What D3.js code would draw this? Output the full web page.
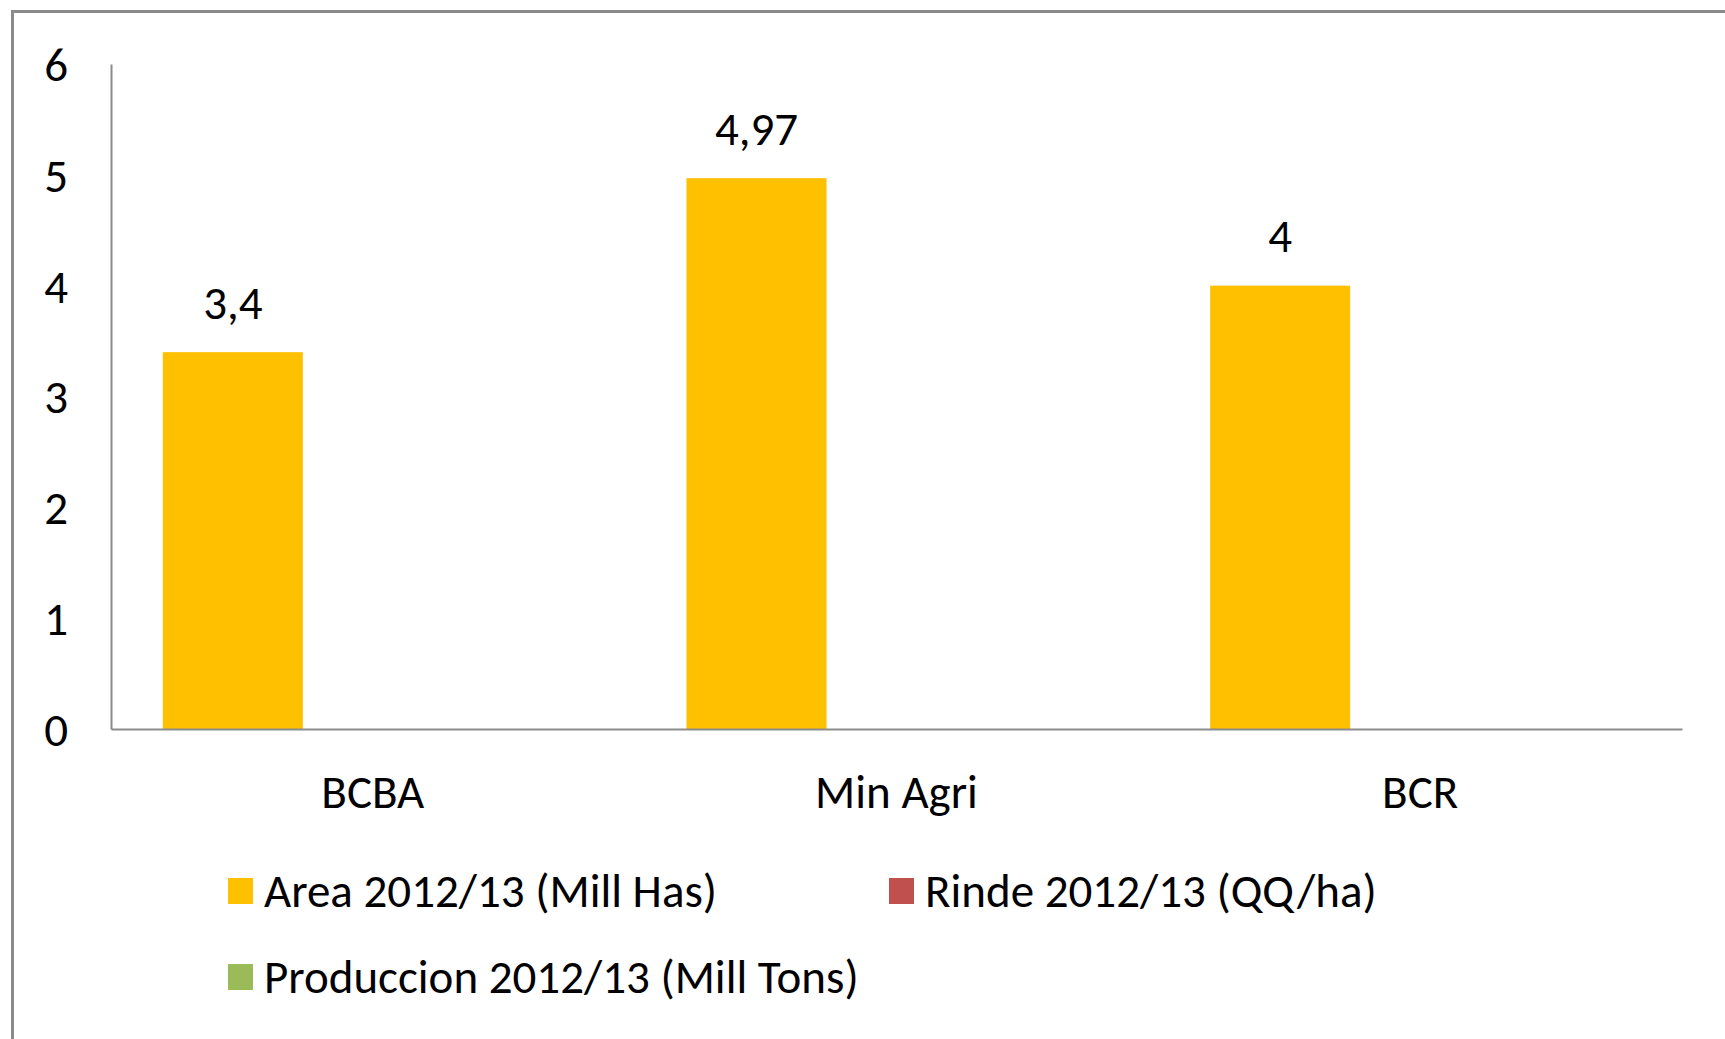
<!DOCTYPE html>
<html>
<head>
<meta charset="utf-8">
<script src="https://cdn.jsdelivr.net/npm/d3@7"></script>
<style>
  body { margin: 0; background: #fff; }
  text { font-family: Calibri, Carlito, Lato, sans-serif; fill: #000; }
</style>
</head>
<body>
<div id="chart"></div>
<script>
// data
const categories = ["BCBA", "Min Agri", "BCR"];
const seriesNames = ["Area 2012/13 (Mill Has)", "Rinde 2012/13 (QQ/ha)", "Produccion 2012/13 (Mill Tons)"];
const areaValues = [3.4, 4.97, 4];
const rindeValues = [null, null, null];      // nothing drawn in the picture
const produccionValues = [null, null, null]; // nothing drawn in the picture
const valueLabels = ["3,4", "4,97", "4"];
const yTicks = [0, 1, 2, 3, 4, 5, 6];
const seriesColors = ["#FFC000", "#C0504D", "#9BBB59"];

const W = 1725, H = 1039;
const plot = {left: 111, right: 1682, top: 64, bottom: 729};
const fontSize = 47;

const svg = d3.select("#chart").append("svg")
    .attr("width", W)
    .attr("height", H);

// outer frame (cut off at right and bottom)
svg.append("rect")
    .attr("x", 12.5).attr("y", 11.5)
    .attr("width", W + 50).attr("height", H + 50)
    .attr("fill", "none")
    .attr("stroke", "#8a8a8a")
    .attr("stroke-width", 3);

const allSeries = [areaValues, rindeValues, produccionValues];
const rows = [];
categories.forEach((c, i) => {
  allSeries.forEach((vals, s) => {
    if (vals[i] != null) rows.push({cat: c, series: seriesNames[s], value: vals[i], label: s === 0 ? valueLabels[i] : vals[i]});
  });
});

const x0 = d3.scaleBand()
    .domain(categories)
    .range([plot.left, plot.right]);

const x1 = d3.scaleBand()
    .domain(seriesNames)
    .range([0, x0.bandwidth()])
    .paddingInner(0)
    .paddingOuter(0.37);

const y = d3.scaleLinear()
    .domain([0, 6])
    .range([plot.bottom, plot.top]);

const color = d3.scaleOrdinal()
    .domain(seriesNames)
    .range(seriesColors);

// y axis
const yAxis = svg.append("g")
    .attr("transform", `translate(${plot.left},0)`)
    .call(d3.axisLeft(y).tickValues(yTicks).tickSize(0).tickPadding(43).tickFormat(d3.format("d")));
yAxis.select(".domain").attr("stroke", "#8c8c8c").attr("stroke-width", 2);
yAxis.selectAll("text")
    .attr("font-size", fontSize)
    .attr("dy", "0.35em")
    .style("font-family", "Calibri, Carlito, Lato, sans-serif");

// bars
svg.selectAll(".bar")
    .data(rows)
    .enter()
    .append("rect")
    .attr("class", "bar")
    .attr("x", d => x0(d.cat) + x1(d.series))
    .attr("y", d => y(d.value))
    .attr("width", x1.bandwidth())
    .attr("height", d => y(0) - y(d.value))
    .attr("fill", d => color(d.series));

// value labels
svg.selectAll(".vlabel")
    .data(rows)
    .enter()
    .append("text")
    .attr("class", "vlabel")
    .attr("x", d => x0(d.cat) + x1(d.series) + x1.bandwidth() / 2)
    .attr("y", d => y(d.value) - 50)
    .attr("dy", "0.35em")
    .attr("text-anchor", "middle")
    .attr("font-size", fontSize)
    .text(d => d.label);

// x axis
const xAxis = svg.append("g")
    .attr("transform", `translate(0,${plot.bottom})`)
    .call(d3.axisBottom(x0).tickSize(0).tickSizeOuter(0));
xAxis.select(".domain").attr("stroke", "#8c8c8c").attr("stroke-width", 2);
xAxis.selectAll("text")
    .attr("y", 63)
    .attr("dy", "0.35em")
    .attr("font-size", fontSize)
    .style("font-family", "Calibri, Carlito, Lato, sans-serif");

// legend
const legend = svg.selectAll(".legend")
    .data(seriesNames)
    .enter()
    .append("g")
    .attr("class", "legend")
    .attr("transform", (d, i) => `translate(${228 + (i % 2) * 661},${891 + Math.floor(i / 2) * 86})`);

legend.append("rect")
    .attr("x", 0).attr("y", -13)
    .attr("width", 25).attr("height", 26)
    .attr("fill", d => color(d));

legend.append("text")
    .attr("x", 36)
    .attr("dy", "0.35em")
    .attr("font-size", fontSize)
    .text(d => d);
</script>
</body>
</html>
